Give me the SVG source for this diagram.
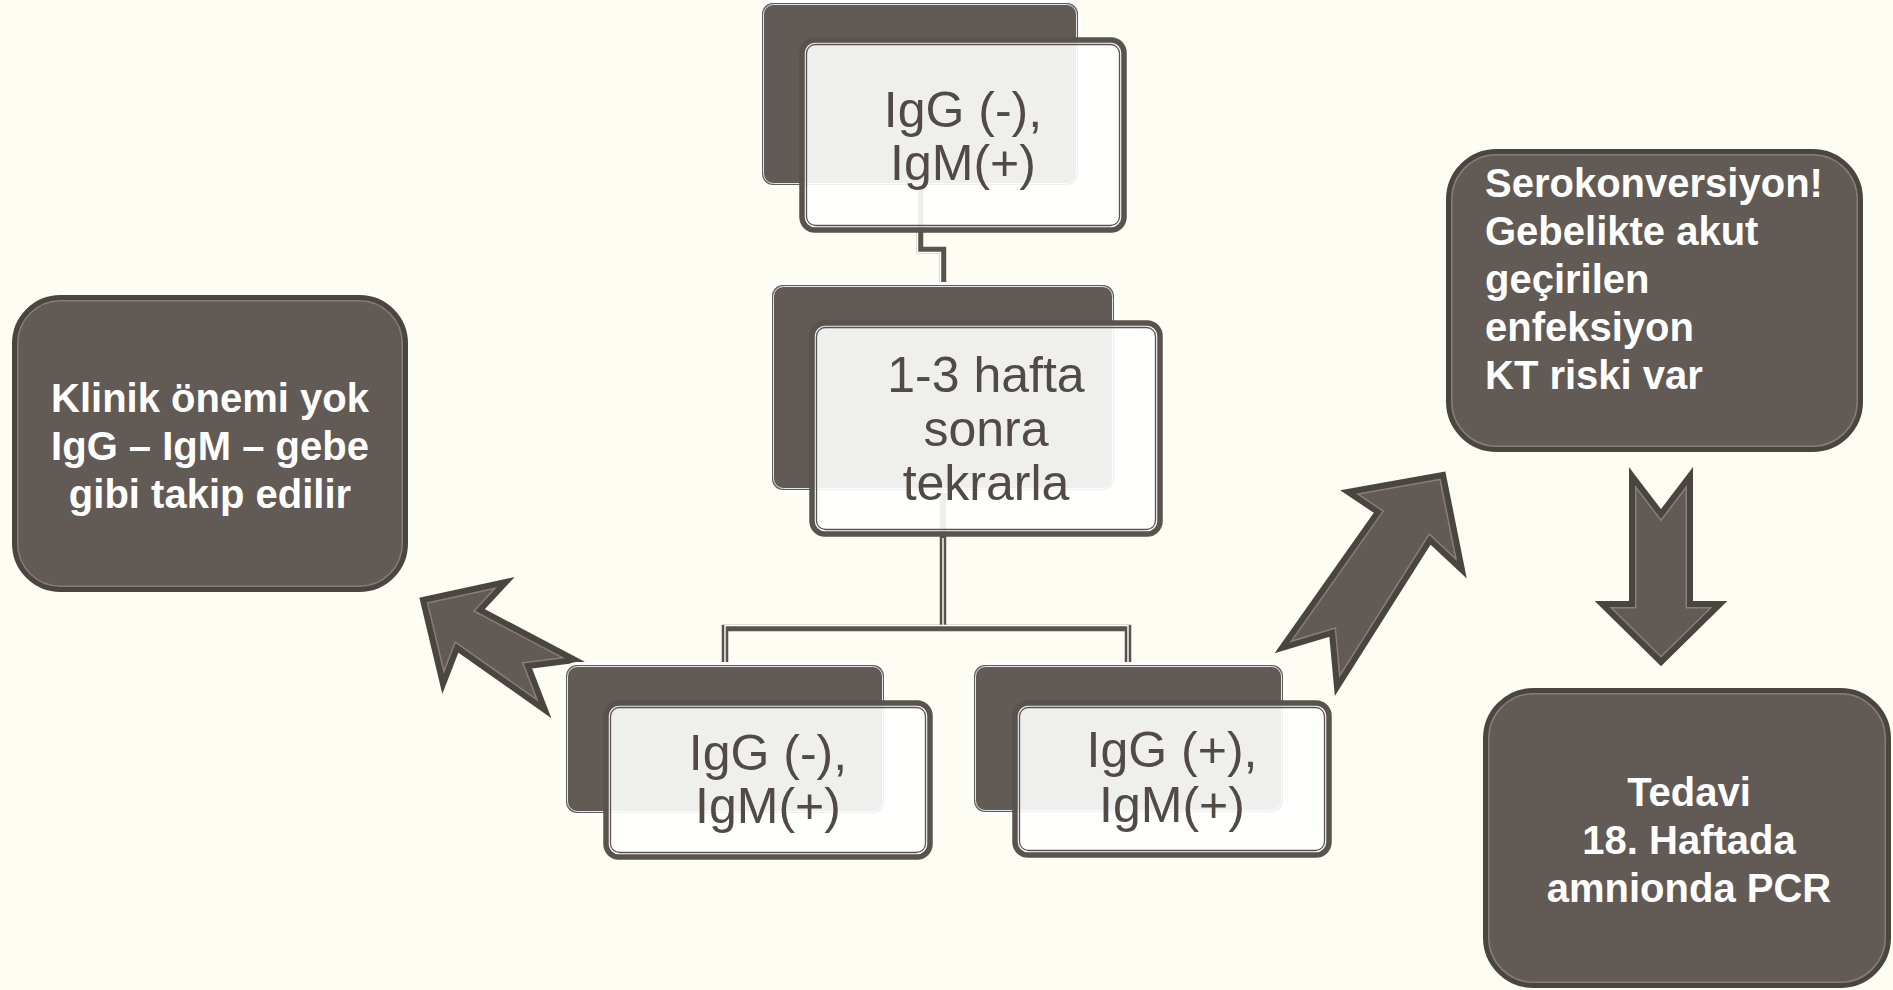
<svg xmlns="http://www.w3.org/2000/svg" xmlns:xlink="http://www.w3.org/1999/xlink" width="1893" height="990" viewBox="0 0 1893 990">
  <style>
    .bg { fill: #fdfdf4; }
    .halo { fill: none; stroke: #ffffff; stroke-width: 6; }
    .back { fill: #625a54; }
    .backline { fill: none; stroke: #ffffff; stroke-width: 1; stroke-opacity: 0.85; }
    .front { fill: #ffffff; fill-opacity: 0.9; stroke: #5a524d; stroke-width: 5.5; }
    .frontline { fill: none; stroke: #5a524d; stroke-width: 1.3; }
    .label { font-family: "Liberation Sans", Arial, sans-serif; font-size: 50px; fill: #514a45; text-anchor: middle; }
    .bigfill { fill: #625a54; }
    .bigline { fill: none; stroke: #857d76; stroke-width: 8; }
    .bigedge { fill: none; stroke: #4b4540; stroke-width: 5; }
    .bigtext { font-family: "Liberation Sans", Arial, sans-serif; font-size: 40px; font-weight: bold; fill: #ffffff; }
    .arrfill { fill: #625a54; }
    .arrline { fill: none; stroke: #877f78; stroke-width: 9; stroke-linejoin: miter; }
    .arredge { fill: none; stroke: #4b4540; stroke-width: 6; stroke-linejoin: miter; }
    .wire { fill: none; stroke: #5a524d; stroke-width: 6.5; stroke-linejoin: miter; }
    .wirelight { fill: none; stroke: #ffffff; stroke-width: 1.4; }
  </style>
  <defs>
    <rect id="boxL" x="14.5" y="297.5" width="391" height="292" rx="46"/>
    <rect id="boxR" x="1448.5" y="151.5" width="412" height="298" rx="48"/>
    <rect id="boxB" x="1485.5" y="690.5" width="403" height="295" rx="48"/>
    <clipPath id="clipL"><use href="#boxL"/></clipPath>
    <clipPath id="clipR"><use href="#boxR"/></clipPath>
    <clipPath id="clipB"><use href="#boxB"/></clipPath>
    <polygon id="arrowLeft" points="423,600 506,582 480,610 575,660 528,666 545,710 457,648 443,684"/>
    <polygon id="arrowUp" points="1443,475 1348,492 1378,512 1282,648 1332,633 1337,687 1430,540 1462,570"/>
    <polygon id="arrowDown" points="1632,476 1661,514 1690,476 1690,604 1720,604 1661,662 1602,604 1632,604"/>
    <clipPath id="clipAL"><use href="#arrowLeft"/></clipPath>
    <clipPath id="clipAU"><use href="#arrowUp"/></clipPath>
    <clipPath id="clipAD"><use href="#arrowDown"/></clipPath>
  </defs>

  <rect class="bg" x="0" y="0" width="1893" height="990"/>

  <!-- hierarchy connectors -->
  <g id="connectors">
    <path class="wire" d="M920,94 V250 H943 V387"/>
    <path class="wirelight" transform="translate(-2.5,2.5)" d="M920,186 V250 H943 V283"/>
    <path class="wire" d="M943,387 V628 M725,740 V628 H1128 V740"/>
    <path class="wirelight" transform="translate(-2.5,-2.5)" d="M727.5,666 V628 H1130.5 V666"/>
    <path class="wirelight" transform="translate(-2.5,0)" d="M945.5,538 V626"/>
  </g>

  <!-- block arrows -->
  <g id="arrow-left">
    <use href="#arrowLeft" class="arrfill"/>
    <use href="#arrowLeft" class="arrline" clip-path="url(#clipAL)"/>
    <use href="#arrowLeft" class="arredge"/>
  </g>
  <g id="arrow-up-right">
    <use href="#arrowUp" class="arrfill"/>
    <use href="#arrowUp" class="arrline" clip-path="url(#clipAU)"/>
    <use href="#arrowUp" class="arredge"/>
  </g>
  <g id="arrow-down">
    <use href="#arrowDown" class="arrfill"/>
    <use href="#arrowDown" class="arrline" clip-path="url(#clipAD)"/>
    <use href="#arrowDown" class="arredge"/>
  </g>

  <!-- stacked card: first result -->
  <g id="node-top">
    <rect class="halo" x="762" y="3" width="316" height="182" rx="11"/>
    <rect class="back" x="762" y="3" width="316" height="182" rx="11"/>
    <rect class="backline" x="763.5" y="4.5" width="313" height="179" rx="10"/>
    <rect class="front" x="802" y="40" width="322" height="190" rx="13"/>
    <rect class="frontline" x="806.5" y="44.5" width="313" height="181" rx="9"/>
    <text class="label" x="963" y="127">IgG (-),</text>
    <text class="label" x="963" y="180">IgM(+)</text>
  </g>

  <!-- stacked card: repeat test -->
  <g id="node-repeat">
    <rect class="halo" x="772" y="285" width="342" height="205" rx="11"/>
    <rect class="back" x="772" y="285" width="342" height="205" rx="11"/>
    <rect class="backline" x="773.5" y="286.5" width="339" height="202" rx="10"/>
    <rect class="front" x="812" y="323" width="348" height="211" rx="13"/>
    <rect class="frontline" x="816.5" y="327.5" width="339" height="202" rx="9"/>
    <text class="label" x="986" y="392">1-3 hafta</text>
    <text class="label" x="986" y="446">sonra</text>
    <text class="label" x="986" y="500">tekrarla</text>
  </g>

  <!-- stacked card: unchanged result -->
  <g id="node-unchanged">
    <rect class="halo" x="566" y="665" width="318" height="148" rx="11"/>
    <rect class="back" x="566" y="665" width="318" height="148" rx="11"/>
    <rect class="backline" x="567.5" y="666.5" width="315" height="145" rx="10"/>
    <rect class="front" x="606" y="703" width="324" height="154" rx="13"/>
    <rect class="frontline" x="610.5" y="707.5" width="315" height="145" rx="9"/>
    <text class="label" x="768" y="770">IgG (-),</text>
    <text class="label" x="768" y="823">IgM(+)</text>
  </g>

  <!-- stacked card: seroconversion result -->
  <g id="node-seroconversion">
    <rect class="halo" x="974" y="665" width="309" height="147" rx="11"/>
    <rect class="back" x="974" y="665" width="309" height="147" rx="11"/>
    <rect class="backline" x="975.5" y="666.5" width="306" height="144" rx="10"/>
    <rect class="front" x="1015" y="703" width="314" height="152" rx="13"/>
    <rect class="frontline" x="1019.5" y="707.5" width="305" height="143" rx="9"/>
    <text class="label" x="1172" y="767">IgG (+),</text>
    <text class="label" x="1172" y="822">IgM(+)</text>
  </g>

  <!-- outcome boxes -->
  <g id="node-no-significance">
    <use href="#boxL" class="bigfill"/>
    <use href="#boxL" class="bigline" clip-path="url(#clipL)"/>
    <use href="#boxL" class="bigedge"/>
    <text class="bigtext" text-anchor="middle" x="210" y="412">Klinik önemi yok</text>
    <text class="bigtext" text-anchor="middle" x="210" y="460">IgG – IgM – gebe</text>
    <text class="bigtext" text-anchor="middle" x="210" y="508">gibi takip edilir</text>
  </g>

  <g id="node-acute-infection">
    <use href="#boxR" class="bigfill"/>
    <use href="#boxR" class="bigline" clip-path="url(#clipR)"/>
    <use href="#boxR" class="bigedge"/>
    <text class="bigtext" x="1485" y="197">Serokonversiyon!</text>
    <text class="bigtext" x="1485" y="245">Gebelikte akut</text>
    <text class="bigtext" x="1485" y="293">geçirilen</text>
    <text class="bigtext" x="1485" y="341">enfeksiyon</text>
    <text class="bigtext" x="1485" y="389">KT riski var</text>
  </g>

  <g id="node-treatment">
    <use href="#boxB" class="bigfill"/>
    <use href="#boxB" class="bigline" clip-path="url(#clipB)"/>
    <use href="#boxB" class="bigedge"/>
    <text class="bigtext" text-anchor="middle" x="1689" y="806">Tedavi</text>
    <text class="bigtext" text-anchor="middle" x="1689" y="854">18. Haftada</text>
    <text class="bigtext" text-anchor="middle" x="1689" y="902">amnionda PCR</text>
  </g>
</svg>
